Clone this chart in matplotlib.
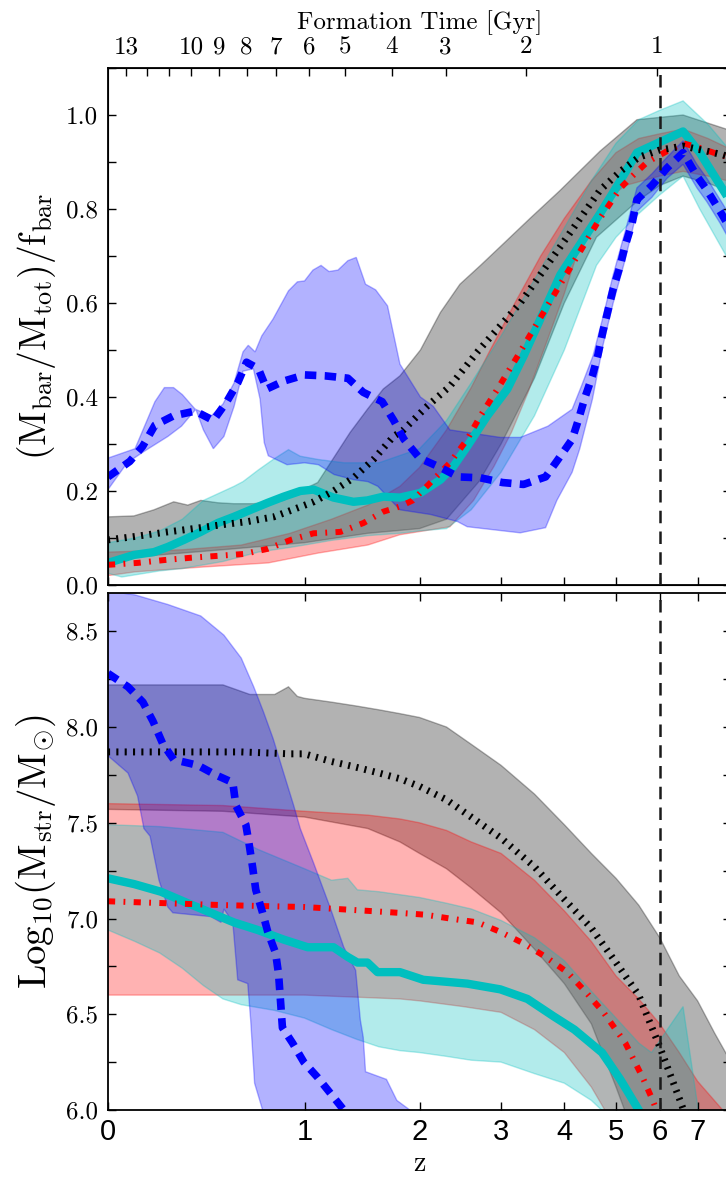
import matplotlib

matplotlib.use("Agg")
import matplotlib.pyplot as plt
import numpy as np
from matplotlib.ticker import MultipleLocator

plt.rcParams["mathtext.fontset"] = "cm"
plt.rcParams["font.family"] = ["cmr10", "DejaVu Serif"]
plt.rcParams["axes.formatter.use_mathtext"] = True

# ---------------- top panel: (Mbar/Mtot)/fbar ----------------
z_blue_t = [0, 0.08, 0.13, 0.18, 0.26, 0.36, 0.45, 0.52, 0.58, 0.63, 0.70, 0.75, 0.86, 1.0, 1.15,
            1.33, 1.46, 1.63, 1.74, 1.84, 2.0, 2.23, 2.44, 2.72, 3.02, 3.33, 3.68, 3.89, 4.14, 4.25,
            4.38, 4.52, 4.63, 4.73, 4.94, 5.09, 5.19, 5.35, 5.46, 5.81, 6.18, 6.6, 6.98, 7.27, 7.66, 8.5]
blue_t = [0.23, 0.263, 0.295, 0.34, 0.36, 0.37, 0.35, 0.39, 0.43, 0.474, 0.46, 0.417, 0.434, 0.447, 0.445,
          0.44, 0.41, 0.39, 0.35, 0.31, 0.27, 0.25, 0.23, 0.228, 0.218, 0.214, 0.23, 0.267, 0.31, 0.35,
          0.40, 0.445, 0.49, 0.54, 0.63, 0.68, 0.72, 0.77, 0.82, 0.85, 0.887, 0.92, 0.87, 0.84, 0.795, 0.70]
z_blue_t_hi = [0, 0.1, 0.18, 0.22, 0.26, 0.3, 0.36, 0.44, 0.5, 0.56, 0.61, 0.64, 0.68, 0.72, 0.79, 0.89,
               0.95, 1.0, 1.06, 1.12, 1.18, 1.25, 1.33, 1.4, 1.48, 1.57, 1.68, 1.8, 2.01, 2.15, 2.34,
               2.99, 3.28, 3.72, 4.14, 4.31, 4.53, 4.73, 4.94, 5.19, 5.46, 5.81, 6.18, 6.6, 6.98, 7.27,
               7.66, 8.5]
blue_t_hi = [0.27, 0.29, 0.39, 0.42, 0.42, 0.405, 0.374, 0.36, 0.385, 0.43, 0.496, 0.51, 0.496, 0.53,
             0.566, 0.626, 0.645, 0.647, 0.67, 0.68, 0.667, 0.67, 0.69, 0.697, 0.64, 0.628, 0.594, 0.47,
             0.40, 0.38, 0.33, 0.314, 0.314, 0.338, 0.374, 0.423, 0.487, 0.57, 0.66, 0.75, 0.845, 0.875,
             0.91, 0.945, 0.895, 0.865, 0.82, 0.73]
z_blue_t_lo = [0, 0.07, 0.135, 0.235, 0.296, 0.363, 0.40, 0.45, 0.505, 0.56, 0.61, 0.67, 0.71, 0.735,
               0.76, 0.88, 1.0, 1.1, 1.22, 1.38, 1.5, 1.59, 1.8, 2.12, 2.43, 2.55, 3.28, 3.68, 3.87,
               4.14, 4.28, 4.52, 4.73, 4.94, 5.19, 5.46, 5.81, 6.18, 6.6, 6.98, 7.27, 7.66, 8.5]
blue_t_lo = [0.203, 0.26, 0.284, 0.316, 0.338, 0.374, 0.33, 0.29, 0.316, 0.38, 0.455, 0.46, 0.395, 0.303,
             0.275, 0.256, 0.26, 0.256, 0.235, 0.224, 0.22, 0.21, 0.16, 0.15, 0.135, 0.124, 0.111, 0.122,
             0.18, 0.24, 0.29, 0.395, 0.51, 0.60, 0.69, 0.795, 0.825, 0.865, 0.895, 0.845, 0.815, 0.77, 0.67]

z_black_t = [0, 0.096, 0.235, 0.353, 0.49, 0.637, 0.794, 0.917, 1.065, 1.215, 1.377, 1.55, 1.737, 1.835,
             2.08, 2.34, 2.69, 3.28, 3.93, 4.67, 5.09, 5.5, 5.98, 6.6, 7.27, 7.75, 8.5]
black_t = [0.096, 0.103, 0.113, 0.12, 0.128, 0.135, 0.145, 0.16, 0.177, 0.2, 0.228, 0.267, 0.316, 0.33,
           0.38, 0.423, 0.498, 0.60, 0.72, 0.84, 0.88, 0.91, 0.925, 0.934, 0.923, 0.915, 0.90]
z_black_t_hi = [0, 0.096, 0.176, 0.261, 0.325, 0.387, 0.473, 0.558, 0.672, 0.858, 0.97, 1.095, 1.35,
                1.497, 1.64, 1.8, 2.01, 2.23, 2.46, 2.72, 2.99, 3.43, 3.93, 4.67, 5.46, 6.6, 7.85, 8.5]
black_t_hi = [0.145, 0.147, 0.16, 0.177, 0.17, 0.18, 0.175, 0.173, 0.173, 0.18, 0.2, 0.218, 0.325, 0.374,
              0.417, 0.445, 0.50, 0.58, 0.64, 0.68, 0.72, 0.78, 0.84, 0.923, 0.99, 1.0, 0.97, 0.95]
z_black_t_lo = [0, 0.5, 1.0, 1.5, 2.0, 2.3, 2.7, 3.0, 3.5, 4.0, 4.6, 5.46, 6.0, 6.6, 7.3, 7.85, 8.5]
black_t_lo = [0.055, 0.075, 0.09, 0.11, 0.12, 0.14, 0.22, 0.30, 0.44, 0.60, 0.74, 0.816, 0.85, 0.87,
              0.855, 0.84, 0.82]

z_cyan_t = [0, 0.096, 0.176, 0.235, 0.307, 0.387, 0.473, 0.558, 0.654, 0.757, 0.858, 0.97, 1.065, 1.215,
            1.377, 1.497, 1.64, 1.80, 2.01, 2.23, 2.38, 2.55, 2.81, 3.09, 3.33, 3.93, 4.67, 5.03, 5.46,
            6.6, 7.06, 7.85, 8.5]
cyan_t = [0.047, 0.064, 0.07, 0.081, 0.096, 0.113, 0.132, 0.145, 0.16, 0.175, 0.188, 0.2, 0.203, 0.186,
          0.177, 0.18, 0.188, 0.186, 0.196, 0.224, 0.252, 0.295, 0.36, 0.417, 0.487, 0.66, 0.79, 0.85,
          0.92, 0.965, 0.92, 0.83, 0.75]
z_cyan_t_hi = [0, 0.1, 0.2, 0.3, 0.4, 0.56, 0.61, 0.7, 0.79, 0.89, 0.97, 1.1, 1.3, 1.6, 2.0, 2.3, 2.6,
               3.0, 3.5, 4.0, 4.5, 5.0, 5.5, 6.0, 6.6, 7.3, 7.9, 8.5]
cyan_t_hi = [0.09, 0.10, 0.115, 0.14, 0.18, 0.21, 0.22, 0.245, 0.267, 0.288, 0.274, 0.267, 0.26, 0.26,
             0.29, 0.35, 0.43, 0.53, 0.65, 0.76, 0.86, 0.94, 0.99, 1.01, 1.03, 0.98, 0.93, 0.88]
z_cyan_t_lo = [0, 0.05, 0.2, 0.3, 0.5, 0.7, 0.9, 1.0, 1.2, 1.5, 1.8, 2.0, 2.3, 2.6, 3.0, 3.5, 4.0, 4.6,
               5.0, 5.5, 6.0, 6.6, 7.06, 7.85, 8.5]
cyan_t_lo = [0.025, 0.017, 0.03, 0.035, 0.05, 0.07, 0.08, 0.085, 0.095, 0.105, 0.11, 0.115, 0.12, 0.16,
             0.24, 0.36, 0.50, 0.68, 0.74, 0.79, 0.83, 0.87, 0.80, 0.70, 0.64]

z_red_t = [0, 0.11, 0.218, 0.34, 0.473, 0.614, 0.757, 0.905, 1.065, 1.27, 1.463, 1.64, 1.80, 1.93, 2.15,
           2.34, 2.55, 2.72, 2.95, 3.24, 3.93, 4.67, 5.09, 5.3, 5.7, 6.18, 6.6, 7.06, 7.66, 8.5]
red_t = [0.043, 0.047, 0.053, 0.058, 0.062, 0.066, 0.077, 0.096, 0.11, 0.113, 0.132, 0.156, 0.167, 0.18,
         0.224, 0.26, 0.31, 0.36, 0.417, 0.487, 0.64, 0.78, 0.844, 0.865, 0.90, 0.923, 0.94, 0.93, 0.915,
         0.90]
z_red_t_hi = [0, 0.3, 0.6, 0.9, 1.2, 1.5, 1.8, 2.0, 2.3, 2.6, 2.85, 3.2, 3.6, 4.0, 4.5, 5.0, 5.5, 6.0,
              6.6, 7.3, 7.9, 8.5]
red_t_hi = [0.07, 0.075, 0.085, 0.11, 0.14, 0.17, 0.21, 0.25, 0.33, 0.42, 0.50, 0.60, 0.70, 0.78, 0.86,
            0.92, 0.95, 0.96, 0.97, 0.95, 0.93, 0.91]
z_red_t_lo = [0, 0.1, 0.39, 0.76, 1.1, 1.5, 1.8, 2.34, 2.63, 2.9, 3.15, 3.4, 3.65, 4.0, 4.3, 4.75, 5.2,
              6.0, 6.6, 7.3, 7.9, 8.5]
red_t_lo = [0.02, 0.028, 0.038, 0.047, 0.068, 0.085, 0.107, 0.124, 0.18, 0.252, 0.325, 0.41, 0.50, 0.62,
            0.73, 0.816, 0.85, 0.87, 0.88, 0.87, 0.86, 0.85]

# ---------------- bottom panel: log10 stellar mass ----------------
z_blue_b = [0, 0.073, 0.131, 0.172, 0.214, 0.261, 0.373, 0.462, 0.553, 0.57, 0.626, 0.643, 0.665, 0.684,
            0.725, 0.757, 0.806, 0.825, 0.85, 0.917, 0.995, 1.095, 1.2, 1.297, 1.5]
blue_b = [8.28, 8.21, 8.13, 8.03, 7.91, 7.83, 7.80, 7.75, 7.71, 7.59, 7.49, 7.40, 7.27, 7.15, 7.03, 6.93,
          6.82, 6.71, 6.43, 6.35, 6.25, 6.17, 6.08, 6.0, 5.85]
z_blue_b_hi = [0, 0.1, 0.235, 0.387, 0.505, 0.6, 0.672, 0.73, 0.79, 0.858, 0.925, 0.97, 1.065, 1.193,
               1.297, 1.395, 1.435, 1.46, 1.48, 1.67, 1.77, 1.9, 2.0]
blue_b_hi = [8.71, 8.69, 8.64, 8.58, 8.48, 8.36, 8.21, 8.08, 7.94, 7.76, 7.59, 7.47, 7.29, 7.05, 6.85,
             6.73, 6.47, 6.38, 6.2, 6.16, 6.05, 6.0, 5.9]
z_blue_b_lo = [0, 0.073, 0.11, 0.135, 0.16, 0.197, 0.235, 0.257, 0.437, 0.49, 0.505, 0.553, 0.58, 0.637,
               0.654, 0.677, 0.725, 0.8]
blue_b_lo = [7.85, 7.76, 7.64, 7.47, 7.43, 7.2, 7.06, 7.03, 7.01, 6.98, 7.05, 6.98, 6.68, 6.66, 6.47,
             6.14, 6.0, 5.8]

z_black_b = [0, 0.3, 0.6, 0.9, 1.0, 1.2, 1.4, 1.6, 1.8, 2.0, 2.3, 2.6, 3.0, 3.5, 4.0, 4.5, 5.0, 5.5,
             6.0, 6.5, 7.0]
black_b = [7.87, 7.87, 7.87, 7.86, 7.86, 7.82, 7.79, 7.76, 7.73, 7.69, 7.62, 7.53, 7.42, 7.27, 7.10,
           6.95, 6.77, 6.60, 6.33, 6.06, 5.8]
z_black_b_hi = [0, 0.5, 0.65, 0.8, 0.89, 0.95, 1.0, 1.2, 1.4, 1.6, 1.8, 2.0, 2.3, 2.6, 3.0, 3.5, 4.0,
                4.5, 5.0, 5.5, 6.0, 6.5, 7.0, 7.5, 8.0, 9.0]
black_b_hi = [8.22, 8.22, 8.17, 8.17, 8.21, 8.16, 8.15, 8.13, 8.11, 8.09, 8.07, 8.05, 8.00, 7.91, 7.80,
              7.65, 7.49, 7.34, 7.21, 7.07, 6.90, 6.70, 6.57, 6.40, 6.25, 5.95]
z_black_b_lo = [0, 0.5, 1.0, 1.5, 1.8, 2.0, 2.3, 2.6, 3.0, 3.5, 4.0, 4.5, 5.0, 5.5]
black_b_lo = [7.57, 7.56, 7.53, 7.47, 7.40, 7.34, 7.26, 7.16, 7.03, 6.84, 6.66, 6.45, 6.12, 5.8]

z_red_b = [0, 0.5, 1.0, 1.5, 1.78, 2.06, 2.34, 2.68, 2.99, 3.33, 3.68, 4.05, 4.38, 4.74, 5.2, 5.59,
           5.83, 6.1]
red_b = [7.09, 7.07, 7.06, 7.04, 7.03, 7.02, 7.0, 6.98, 6.93, 6.87, 6.80, 6.72, 6.62, 6.51, 6.35, 6.17,
         6.05, 5.9]
z_red_b_hi = [0, 0.5, 1.0, 1.5, 1.8, 2.0, 2.3, 2.6, 3.0, 3.5, 4.0, 4.5, 5.0, 5.5, 6.0, 6.5, 7.0, 8.0,
              9.0]
red_b_hi = [7.60, 7.59, 7.56, 7.54, 7.52, 7.50, 7.46, 7.40, 7.34, 7.20, 7.04, 6.88, 6.70, 6.58, 6.45,
            6.30, 6.15, 5.95, 5.8]
z_red_b_lo = [0, 1.0, 1.8, 2.0, 2.5, 3.0, 3.5, 4.0, 4.5, 5.0, 5.5]
red_b_lo = [6.60, 6.60, 6.58, 6.57, 6.54, 6.51, 6.42, 6.30, 6.12, 5.9, 5.7]

z_cyan_b = [0, 0.096, 0.205, 0.325, 0.437, 0.558, 0.696, 0.858, 1.022, 1.215, 1.328, 1.41, 1.497, 1.587,
            1.80, 2.04, 2.55, 2.99, 3.39, 3.81, 4.18, 4.71, 5.09, 5.5, 5.8]
cyan_b = [7.21, 7.18, 7.14, 7.08, 7.03, 6.98, 6.94, 6.89, 6.85, 6.85, 6.80, 6.77, 6.77, 6.72, 6.72, 6.68,
          6.66, 6.63, 6.58, 6.49, 6.42, 6.30, 6.16, 6.0, 5.85]
z_cyan_b_hi = [0, 0.2, 0.5, 0.7, 1.0, 1.2, 1.33, 1.41, 1.6, 2.0, 2.3, 2.6, 3.0, 3.5, 4.0, 4.5, 5.0, 5.5,
               5.8, 6.6, 7.1]
cyan_b_hi = [7.49, 7.48, 7.45, 7.36, 7.26, 7.20, 7.21, 7.15, 7.14, 7.11, 7.08, 7.05, 6.99, 6.90, 6.78,
             6.62, 6.48, 6.35, 6.30, 6.54, 5.9]
z_cyan_b_lo = [0, 0.1, 0.2, 0.3, 0.4, 0.5, 0.6, 0.8, 1.0, 1.2, 1.4, 1.6, 1.8, 2.0, 2.3, 2.6, 3.0, 3.5,
               4.0, 4.5, 4.7, 5.0]
cyan_b_lo = [6.94, 6.88, 6.82, 6.74, 6.65, 6.58, 6.55, 6.52, 6.48, 6.42, 6.37, 6.33, 6.31, 6.30, 6.28,
             6.26, 6.25, 6.19, 6.14, 6.05, 6.0, 5.9]

# axis ticks
z_ticks = [0, 1, 2, 3, 4, 5, 6, 7]
age_labels = ["13", "", "", "10", "9", "8", "7", "6", "5", "4", "3", "2", "1"]
z_of_age = [0.065, 0.147, 0.24, 0.34, 0.48, 0.63, 0.81, 1.03, 1.31, 1.72, 2.29, 3.36, 5.93]
z_reion = 6.0

BLUE, GRAY, CYAN, RED = "#0000ff", "k", "#00bfbf", "#ff0000"


def lx(z):
    return np.log10(1.0 + np.asarray(z, dtype=float))


def band(ax, zu, up, zl, lo, color):
    xs = np.concatenate([lx(zu), lx(zl)[::-1]])
    ys = np.concatenate([np.asarray(up), np.asarray(lo)[::-1]])
    ax.fill(xs, ys, color=color, alpha=0.3, lw=1.0)


def lines(ax, zc, c, zr, r, zk, k, zb, b):
    ax.plot(lx(zc), c, color=CYAN, lw=6, solid_capstyle="butt")
    ax.plot(lx(zr), r, color=RED, lw=4.3, dashes=(1.2, 1.4, 0.3, 1.4))
    ax.plot(lx(zk), k, color="k", lw=5, dashes=(0.3, 0.9))
    ax.plot(lx(zb), b, color=BLUE, lw=5.5, dashes=(1.5, 1.1))


W, H = 726, 1184
fig = plt.figure(figsize=(W / 100, H / 100), dpi=100)
x0, w = 108 / W, (731 - 108) / W
ax1 = fig.add_axes([x0, 1 - 585 / H, w, 517 / H])
ax2 = fig.add_axes([x0, 1 - 1110 / H, w, 517 / H])

# top panel
band(ax1, z_black_t_hi, black_t_hi, z_black_t_lo, black_t_lo, GRAY)
band(ax1, z_red_t_hi, red_t_hi, z_red_t_lo, red_t_lo, RED)
band(ax1, z_cyan_t_hi, cyan_t_hi, z_cyan_t_lo, cyan_t_lo, CYAN)
band(ax1, z_blue_t_hi, blue_t_hi, z_blue_t_lo, blue_t_lo, BLUE)
lines(ax1, z_cyan_t, cyan_t, z_red_t, red_t, z_black_t, black_t, z_blue_t, blue_t)

# bottom panel
band(ax2, z_black_b_hi, black_b_hi, z_black_b_lo, black_b_lo, GRAY)
band(ax2, z_red_b_hi, red_b_hi, z_red_b_lo, red_b_lo, RED)
band(ax2, z_cyan_b_hi, cyan_b_hi, z_cyan_b_lo, cyan_b_lo, CYAN)
band(ax2, z_blue_b_hi, blue_b_hi, z_blue_b_lo, blue_b_lo, BLUE)
lines(ax2, z_cyan_b, cyan_b, z_red_b, red_b, z_black_b, black_b, z_blue_b, blue_b)

xmax = np.log10(9.0)
for ax in (ax1, ax2):
    ax.axvline(lx(z_reion), color="#1a1a1a", lw=1.8, dashes=(5, 3.3), zorder=10)
    ax.set_xlim(0, xmax)
    ax.set_xticks(lx(z_ticks))
    ax.tick_params(which="both", direction="in", length=6, width=1, right=True, pad=7)
    for s in ax.spines.values():
        s.set_linewidth(1.3)

ax1.set_ylim(0, 1.1)
ax1.yaxis.set_minor_locator(MultipleLocator(0.1))
ax1.set_yticks(np.arange(0, 1.01, 0.2), [f"{v:.1f}" for v in np.arange(0, 1.01, 0.2)], fontsize=18)
ax1.tick_params(axis="x", labelbottom=False, top=False)

ax2.set_ylim(6.0, 8.7)
ax2.yaxis.set_minor_locator(MultipleLocator(0.25))
ax2.set_yticks(np.arange(6.0, 8.51, 0.5), [f"{v:.1f}" for v in np.arange(6.0, 8.51, 0.5)], fontsize=18)
ax2.tick_params(axis="x", top=True, pad=6)
ax2.set_xticklabels([str(z) for z in z_ticks], fontsize=21, family="Liberation Sans")
ax2.set_xlabel("z", fontsize=20, labelpad=3)

ax1.set_ylabel(r"$(\mathrm{M}_{\mathrm{bar}}/\mathrm{M}_{\mathrm{tot}})/\mathrm{f}_{\mathrm{bar}}$",
               fontsize=27, labelpad=6)
ax2.set_ylabel(r"$\mathrm{Log}_{10}(\mathrm{M}_{\mathrm{str}}/\mathrm{M}_{\odot})$",
               fontsize=28, labelpad=6)

axt = ax1.twiny()
axt.set_xlim(0, xmax)
axt.set_xticks(lx(z_of_age), age_labels, fontsize=18)
axt.tick_params(direction="in", length=6, width=1, pad=7)
axt.set_xlabel("Formation Time [Gyr]", fontsize=18, labelpad=5)

fig.savefig("out.png", dpi=100)
